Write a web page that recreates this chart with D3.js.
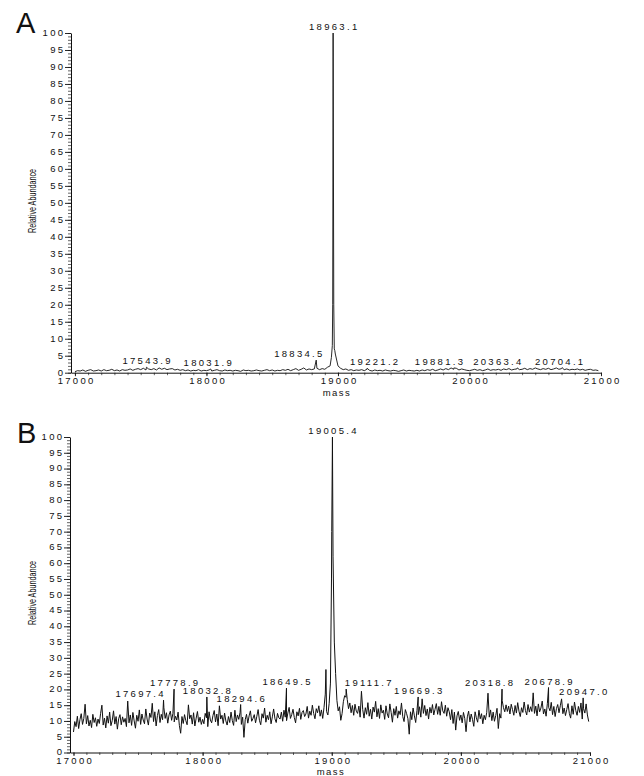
<!DOCTYPE html>
<html>
<head>
<meta charset="utf-8">
<script src="https://cdn.jsdelivr.net/npm/d3@7/dist/d3.min.js"></script>
<style>
  html, body { margin: 0; padding: 0; background: #ffffff; }
  svg { display: block; }
  text { font-family: "Liberation Sans", Arial, Helvetica, sans-serif; fill: #111; }
</style>
</head>
<body>
<svg id="chart" width="644" height="776"></svg>
<script>
// ---------------- DATA ----------------
const panelLetters = ["A", "B"];
const xTickValues = [17000, 18000, 19000, 20000, 21000];
const yTickValues = [0, 5, 10, 15, 20, 25, 30, 35, 40, 45, 50, 55, 60, 65, 70, 75, 80, 85, 90, 95, 100];
const xAxisTitle = "mass";
const yAxisTitle = "Relative Abundance";

// Panel A: baseline sampled every 20 Da starting at 17000
const massStartA = 17000;
const massStepA = 20;
const baselineA = [
  0.3, 0.6, 0.5, 0.8, 0.4, 0.7, 0.9, 0.5, 0.6, 0.8,
  0.5, 0.9, 0.6, 0.7, 1.0, 0.6, 0.8, 0.5, 0.9, 0.7,
  0.8, 1.1, 0.7, 1.0, 1.2, 0.9, 1.3, 0.8, 1.1, 0.9,
  1.2, 0.8, 1.4, 1.0, 1.3, 0.9, 1.1, 1.2, 0.8, 1.0,
  0.7, 0.9, 0.6, 0.8, 0.5, 0.7, 0.6, 0.9, 0.5, 0.7,
  0.6, 0.8, 0.5, 0.7, 0.9, 0.6, 0.5, 0.8, 0.6, 0.7,
  0.5, 0.7, 0.6, 0.4, 0.8, 0.6, 0.7, 0.5, 0.6, 0.8,
  0.6, 0.5, 0.7, 0.9, 0.6, 0.8, 0.5, 0.7, 0.6, 0.9,
  0.7, 1.0, 0.6, 0.9, 1.2, 0.7, 1.0, 1.4, 0.8, 1.1,
  0.9, 1.1, 1.3, 0.9, 1.2, 1.0, 1.6, 2.0, 20, 5.5,
  2.0, 1.3, 0.9, 1.1, 0.7, 0.9, 0.6, 0.8, 0.7, 0.9,
  0.6, 1.0, 0.7, 0.5, 0.8, 0.6, 0.7, 0.5, 0.8, 0.6,
  0.5, 0.7, 0.6, 0.4, 0.6, 0.8, 0.5, 0.7, 0.6, 0.5,
  0.7, 0.5, 0.8, 0.6, 0.9, 0.7, 1.0, 0.6, 0.8, 1.1,
  0.8, 1.2, 0.9, 1.4, 1.0, 1.3, 0.8, 1.1, 0.9, 0.7,
  0.6, 0.8, 1.0, 0.7, 0.9, 0.6, 0.8, 1.1, 0.7, 0.9,
  0.8, 1.0, 0.7, 1.1, 0.9, 1.2, 0.8, 1.0, 1.1, 0.9,
  1.0, 1.3, 0.9, 1.2, 1.0, 1.4, 1.1, 0.9, 1.2, 1.0,
  1.3, 0.9, 1.1, 1.4, 1.0, 1.2, 0.9, 1.1, 0.8, 1.0,
  0.9, 1.1, 0.8, 1.0, 0.7, 0.9, 1.0, 0.7, 0.8, 0.6
];
const peakMassA   = [17543.9, 18031.9, 18834.5, 18950, 18957, 18963.1, 18968, 18972, 18976, 19221.2, 19881.3, 20363.4, 20704.1];
const peakHeightA = [1.6,     1.1,     3.7,     4.5,   8,     100,     20,    7,     6.5,   1.3,     1.4,     1.4,     1.5];
const labelMassA  = [17543.9, 18031.9, 18834.5, 18963.1, 19221.2, 19881.3, 20363.4, 20704.1];

// Panel B: baseline sampled every 10 Da starting at 17000
const massStartB = 17000;
const massStepB = 10;
const baselineB = [
  6.5, 9.8, 8.2, 11.5, 7.6, 10.4, 12.3, 8.9, 10.8, 15.3, 9.1, 11.7, 8.4, 10.2, 7.9, 12.1, 9.5, 11.0, 8.3, 10.6,
  9.2, 12.4, 15.0, 8.7, 10.9, 7.8, 11.6, 9.3, 12.8, 8.5, 10.1, 13.2, 9.0, 11.4, 7.4, 10.7, 12.0, 8.8, 11.3, 9.6,
  10.8, 8.2, 16.3, 9.4, 11.9, 8.6, 12.7, 10.0, 7.7, 11.8, 9.9, 13.5, 8.9, 12.2, 10.3, 9.1, 13.8, 10.6, 8.7, 12.5,
  11.1, 15.6, 9.8, 12.9, 8.4, 11.7, 13.6, 9.5, 12.1, 10.4, 14.2, 10.8, 12.6, 9.3, 11.9, 13.1, 10.2, 12.4, 9.7, 11.5,
  10.3, 12.8, 8.6, 6.1, 11.4, 9.2, 12.0, 10.1, 8.8, 15.1, 10.7, 11.9, 9.0, 12.6, 8.4, 10.9, 13.0, 9.6, 11.2, 8.9,
  10.5, 9.1, 12.4, 11.0, 8.2, 12.9, 10.3, 9.4, 11.7, 13.3, 9.7, 12.2, 8.5, 14.8, 10.6, 11.8, 9.2, 12.5, 10.0, 8.7,
  11.4, 9.5, 12.8, 10.1, 8.6, 13.4, 9.8, 11.9, 10.5, 12.7, 8.9, 11.2, 4.8, 10.4, 12.1, 9.3, 11.6, 13.2, 9.9, 10.8,
  12.0, 9.4, 11.5, 13.6, 10.2, 8.8, 12.3, 10.9, 14.1, 9.6, 11.8, 10.4, 12.9, 9.1, 11.3, 13.8, 10.7, 9.5, 12.4, 11.0,
  10.6, 12.8, 9.9, 13.4, 11.2, 10.1, 12.5, 14.3, 10.8, 12.0, 13.7, 11.1, 9.4, 12.9, 11.6, 14.0, 10.5, 12.7, 13.3, 11.4,
  12.2, 14.6, 10.9, 13.1, 11.8, 15.0, 12.4, 10.7, 13.9, 12.6, 14.8, 11.5, 13.5, 10.8, 14.2, 18.5, 13.0, 11.9, 15.6, 22.0,
  70.0, 62.0, 35.0, 25.0, 16.5, 13.2, 14.5, 10.2, 12.3, 16.1, 18.0, 17.5, 16.8, 13.9, 15.7, 12.6, 14.9, 11.8, 15.3, 13.1,
  12.4, 14.7, 11.2, 19.4, 13.6, 10.9, 14.2, 12.1, 15.8, 11.5, 13.7, 10.6, 14.4, 12.8, 16.2, 11.3, 13.9, 10.8, 15.1, 12.5,
  13.4, 10.5, 14.8, 12.2, 11.0, 15.4, 12.7, 9.6, 13.9, 11.8, 14.6, 10.9, 13.2, 12.0, 15.7, 11.4, 9.8, 13.6, 12.3, 10.7,
  5.8, 12.9, 10.4, 14.1, 11.6, 9.5, 13.3, 12.0, 14.5, 11.2, 17.0, 12.4, 14.9, 11.7, 13.8, 10.6, 14.3, 12.5, 15.2, 11.9,
  13.7, 15.5, 12.1, 14.6, 11.8, 16.1, 13.2, 12.4, 15.0, 11.5, 14.2, 12.9, 10.4, 13.6, 9.2, 12.8, 7.1, 11.6, 13.0, 10.2,
  11.9, 9.4, 12.7, 10.8, 6.6, 11.3, 13.1, 9.7, 12.2, 10.5, 8.3, 12.9, 11.0, 9.6, 13.4, 10.7, 12.3, 9.1, 11.8, 10.4,
  12.6, 18.8, 11.2, 13.5, 10.1, 12.8, 9.9, 11.7, 14.0, 7.6, 12.3, 10.9, 16.4, 14.2, 12.9, 15.1, 13.0, 14.7, 12.2, 15.3,
  13.6, 11.8, 14.9, 12.5, 15.8, 13.1, 11.4, 14.2, 12.7, 16.0, 13.3, 11.9, 15.2, 12.8, 14.5, 13.0, 18.9, 12.4, 14.7, 11.6,
  15.4, 12.9, 14.1, 16.3, 12.2, 13.8, 11.5, 15.6, 14.3, 13.2, 15.9, 12.0, 14.6, 11.4, 13.9, 15.2, 12.6, 14.8, 17.0, 12.3,
  14.1, 11.7, 13.6, 15.5, 12.4, 10.9, 14.8, 12.1, 16.0, 13.3, 11.8, 14.6, 12.7, 15.7, 10.6, 13.9, 12.5, 15.4, 11.9, 9.8
];
const peakMassB   = [17697.4, 17778.9, 18032.8, 18294.6, 18649.5, 18955, 18998, 19005.4, 19111.7, 19669.3, 20318.8, 20678.9, 20947.0];
const peakHeightB = [16.6,    20.1,    17.6,    15.2,    20.4,    26.3,  55,    100,     20.1,    17.6,    20.1,    20.6,    17.3];
const labelMassB  = [17697.4, 17778.9, 18032.8, 18294.6, 18649.5, 19005.4, 19111.7, 19669.3, 20318.8, 20678.9, 20947.0];

// ---------------- LAYOUT ----------------
const panels = [
  {
    letter: panelLetters[0], letterX: 16, letterY: 33,
    xDomainStart: 16970, xRange: [71, 601], yRange: [372.7, 33],
    massStart: massStartA, massStep: massStepA, baseline: baselineA,
    peakMass: peakMassA, peakHeight: peakHeightA, labelMass: labelMassA,
    labelNudge: [0, -3, -18, 0, 7, -15, -20, -3],
    yTitleCenter: 201, xTitleX: 337, xTitleY: 396, lineWidth: 0.9
  },
  {
    letter: panelLetters[1], letterX: 17, letterY: 443,
    xDomainStart: 16973, xRange: [70, 590], yRange: [752.5, 437],
    massStart: massStartB, massStep: massStepB, baseline: baselineB,
    peakMass: peakMassB, peakHeight: peakHeightB, labelMass: labelMassB,
    labelNudge: [-24, 0, 0, 0, 0, 0, 22, 0, -13, 0, 0],
    yTitleCenter: 593, xTitleX: 331, xTitleY: 774.5, lineWidth: 1.0
  }
];

const svg = d3.select("#chart");
svg.append("rect").attr("width", 644).attr("height", 776).attr("fill", "#ffffff");

const numFont = 9.5, numSpacing = 2.3;

panels.forEach(p => {
  const x = d3.scaleLinear().domain([p.xDomainStart, 21000]).range(p.xRange);
  const y = d3.scaleLinear().domain([0, 100]).range(p.yRange);
  const g = svg.append("g");

  // build series
  const pts = p.baseline.map((v, i) => [p.massStart + i * p.massStep, v]);
  p.peakMass.forEach((m, i) => pts.push([m, p.peakHeight[i]]));
  pts.sort((a, b) => a[0] - b[0]);

  // minor y ticks
  g.append("g")
    .attr("transform", `translate(${p.xRange[0]},0)`)
    .call(d3.axisLeft(y).tickValues(d3.range(0, 101, 1)).tickSize(3).tickFormat(""))
    .call(s => s.select(".domain").remove())
    .call(s => s.selectAll("line").attr("stroke", "#222").attr("stroke-width", 0.7));
  // major y ticks
  g.append("g")
    .attr("transform", `translate(${p.xRange[0]},0)`)
    .call(d3.axisLeft(y).tickValues(yTickValues).tickSize(6).tickSizeOuter(0).tickPadding(2))
    .call(s => s.select(".domain").attr("stroke", "#111").attr("stroke-width", 1))
    .call(s => s.selectAll("line").attr("stroke", "#111").attr("stroke-width", 0.9))
    .call(s => s.selectAll("text")
      .attr("font-size", numFont).attr("letter-spacing", numSpacing)
      .attr("font-family", "Liberation Sans, Arial, sans-serif").attr("fill", "#111")
      .attr("dx", numSpacing).attr("dy", "0.25em"));

  // minor x ticks
  g.append("g")
    .attr("transform", `translate(0,${p.yRange[0]})`)
    .call(d3.axisBottom(x).tickValues(d3.range(17000, 21001, 100)).tickSize(2.5).tickFormat(""))
    .call(s => s.select(".domain").remove())
    .call(s => s.selectAll("line").attr("stroke", "#222").attr("stroke-width", 0.7));
  // major x ticks
  g.append("g")
    .attr("transform", `translate(0,${p.yRange[0]})`)
    .call(d3.axisBottom(x).tickValues(xTickValues).tickSize(3.5).tickSizeOuter(0).tickPadding(1).tickFormat(d3.format("d")))
    .call(s => s.select(".domain").attr("stroke", "#111").attr("stroke-width", 1))
    .call(s => s.selectAll("line").attr("stroke", "#111").attr("stroke-width", 0.9))
    .call(s => s.selectAll("text")
      .attr("font-size", numFont).attr("letter-spacing", numSpacing)
      .attr("font-family", "Liberation Sans, Arial, sans-serif").attr("fill", "#111")
      .attr("dx", numSpacing / 2));

  // spectrum line
  g.append("path")
    .datum(pts)
    .attr("fill", "none")
    .attr("stroke", "#111")
    .attr("stroke-width", p.lineWidth)
    .attr("stroke-linejoin", "miter")
    .attr("d", d3.line().x(d => x(d[0])).y(d => y(d[1])));

  // peak labels
  p.labelMass.forEach((m, i) => {
    const h = p.peakHeight[p.peakMass.indexOf(m)];
    g.append("text")
      .attr("x", x(m) + p.labelNudge[i] + numSpacing / 2)
      .attr("y", y(h) - 3)
      .attr("text-anchor", "middle")
      .attr("font-size", numFont)
      .attr("letter-spacing", numSpacing)
      .text(m.toFixed(1));
  });

  // axis titles
  g.append("text")
    .attr("x", p.xTitleX).attr("y", p.xTitleY)
    .attr("text-anchor", "middle")
    .attr("font-size", 9.5).attr("letter-spacing", 1.5)
    .text(xAxisTitle);
  g.append("text")
    .attr("transform", `translate(36,${p.yTitleCenter}) rotate(-90)`)
    .attr("text-anchor", "middle")
    .attr("font-size", 10.5)
    .attr("textLength", 64).attr("lengthAdjust", "spacingAndGlyphs")
    .text(yAxisTitle);

  // panel letter
  g.append("text")
    .attr("x", p.letterX).attr("y", p.letterY)
    .attr("font-size", 29)
    .text(p.letter);
});
</script>
</body>
</html>
